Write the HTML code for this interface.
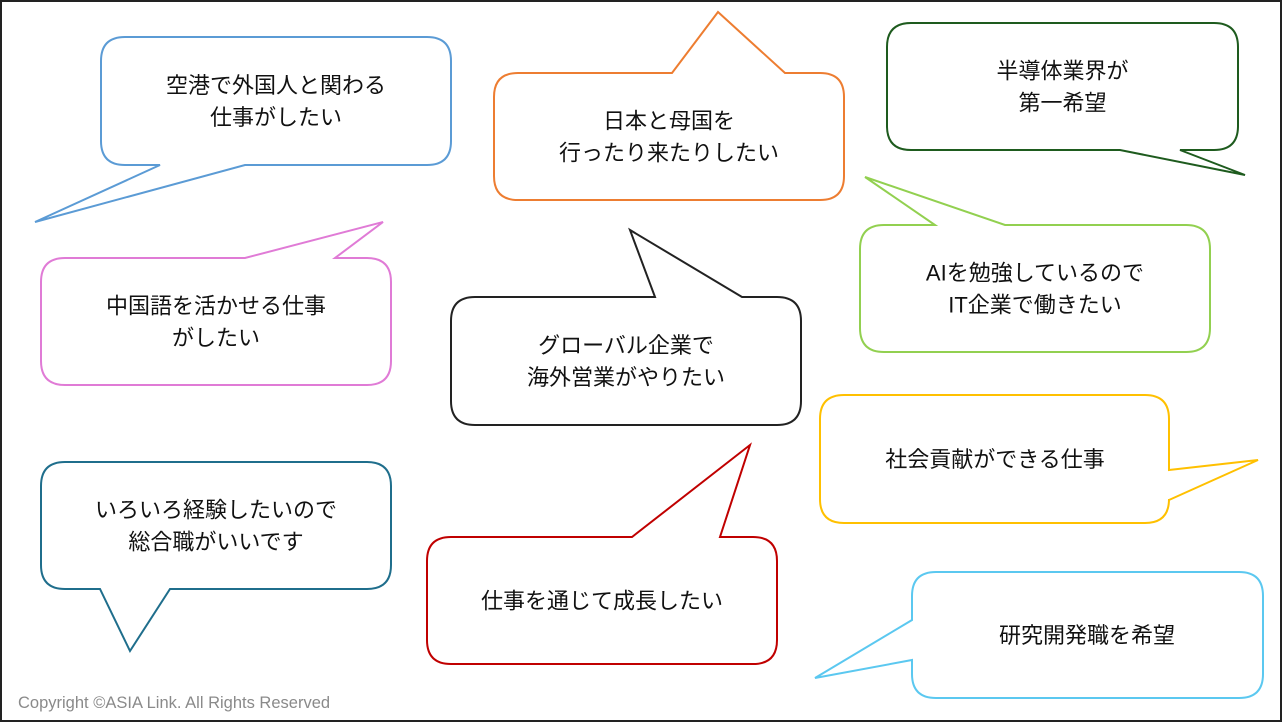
<!DOCTYPE html>
<html><head><meta charset="utf-8"><style>
html,body{margin:0;padding:0;background:#fff;}
svg{display:block;}
text{font-family:"Liberation Sans","Noto Sans CJK JP",sans-serif;}
</style></head><body>
<svg id="s" width="1282" height="722" viewBox="0 0 1282 722" xmlns="http://www.w3.org/2000/svg">
<rect x="1" y="1" width="1280" height="720" fill="#fff" stroke="#222" stroke-width="2"/>
<text x="18" y="708" font-size="16.5" fill="#8a8a8a">Copyright ©ASIA Link. All Rights Reserved</text>
<text x="1236" y="696" font-size="16" fill="#8a8a8a">5</text>
</svg>
<script>
var s=document.getElementById('s');
function B(x,y,w,h,side,a,b,tx,ty,c,lines,cx,cy){
 var r=24,X=x+w,Y=y+h,d='M'+(x+r)+','+y;
 if(side=='t')d+=' L'+a+','+y+' L'+tx+','+ty+' L'+b+','+y;
 d+=' L'+(X-r)+','+y+' Q'+X+','+y+' '+X+','+(y+r);
 if(side=='r')d+=' L'+X+','+a+' L'+tx+','+ty+' L'+X+','+b;
 d+=' L'+X+','+(Y-r)+' Q'+X+','+Y+' '+(X-r)+','+Y;
 if(side=='b')d+=' L'+b+','+Y+' L'+tx+','+ty+' L'+a+','+Y;
 d+=' L'+(x+r)+','+Y+' Q'+x+','+Y+' '+x+','+(Y-r);
 if(side=='l')d+=' L'+x+','+b+' L'+tx+','+ty+' L'+x+','+a;
 d+=' L'+x+','+(y+r)+' Q'+x+','+y+' '+(x+r)+','+y+' Z';
 var p=document.createElementNS('http://www.w3.org/2000/svg','path');
 p.setAttribute('d',d);p.setAttribute('fill','#fff');p.setAttribute('stroke',c);p.setAttribute('stroke-width','2');
 s.appendChild(p);
 var mx=cx||x+w/2,my=cy||y+h/2,n=lines.length;
 lines.forEach(function(t,i){
  var e=document.createElementNS('http://www.w3.org/2000/svg','text');
  e.setAttribute('x',mx);e.setAttribute('y',my+(i-(n-1)/2)*32+8);
  e.setAttribute('font-size','22');e.setAttribute('text-anchor','middle');e.setAttribute('fill','#111');
  e.textContent=t;s.appendChild(e);
 });
}
B(101,37,350,128,'b',160,245,35,222,'#5B9BD5',['空港で外国人と関わる','仕事がしたい']);
B(494,73,350,127,'t',672,785,718,12,'#ED7D31',['日本と母国を','行ったり来たりしたい']);
B(887,23,351,127,'b',1120,1180,1245,175,'#1E5B1E',['半導体業界が','第一希望']);
B(41,258,350,127,'t',245,335,383,222,'#E07BD6',['中国語を活かせる仕事','がしたい']);
B(860,225,350,127,'t',935,1005,865,177,'#92D050',['AIを勉強しているので','IT企業で働きたい']);
B(451,297,350,128,'t',655,742,630,230,'#222',['グローバル企業で','海外営業がやりたい']);
B(820,395,349,128,'r',470,500,1258,460,'#FFC000',['社会貢献ができる仕事'],995,459);
B(41,462,350,127,'b',100,170,130,651,'#1F6E8C',['いろいろ経験したいので','総合職がいいです']);
B(427,537,350,127,'t',632,720,750,445,'#C00000',['仕事を通じて成長したい']);
B(912,572,351,126,'l',620,660,815,678,'#5BC8F0',['研究開発職を希望'],1087,635);
</script>
</body></html>
